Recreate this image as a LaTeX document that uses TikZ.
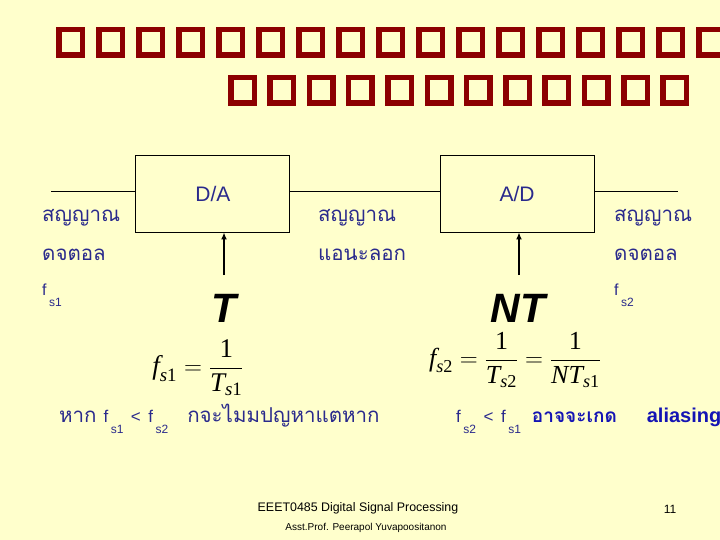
\documentclass[tikz,border=0pt]{standalone}
\usepackage{fontspec}
\usepackage{amsmath}
\setmainfont{Liberation Sans}
\newfontfamily\thai[Script=Thai]{Loma}
\newfontfamily\tms{Liberation Serif}
\usetikzlibrary{arrows.meta}
\definecolor{bg}{HTML}{FFFFCC}
\definecolor{titlered}{HTML}{8C0000}
\definecolor{navy}{HTML}{2A2A8C}
\definecolor{boldblue}{HTML}{1414B4}
\newcommand{\fsb}[1]{f\kern2.5pt\raisebox{-11pt}{\fontsize{12}{12}\selectfont #1}}
\newcommand{\mi}[1]{\text{\tms\itshape #1}}
\newcommand{\mr}[1]{\text{\tms #1}}
\tikzset{
  tofu/.style={draw=titlered, line width=5.5pt},
  blockbox/.style={draw=black, line width=0.9pt},
  sig/.style={draw=black, line width=0.9pt},
  lbl/.style={text=navy, inner sep=0pt, font=\thai\fontsize{20.5}{22}\selectfont},
  fsl/.style={text=navy, inner sep=0pt, font=\fontsize{16}{16}\selectfont},
  boxtxt/.style={text=navy, inner sep=0pt, font=\fontsize{21}{21}\selectfont},
  bigT/.style={text=black, inner sep=0pt, font=\fontsize{41}{41}\selectfont\bfseries\itshape},
  formula/.style={text=black, inner sep=0pt, font=\fontsize{26}{30}\selectfont},
  foot/.style={text=black, inner sep=0pt},
}
\begin{document}
\begin{tikzpicture}[x=1pt,y=-1pt]
\fill[bg] (0,0) rectangle (720,540);
\useasboundingbox (0,0) rectangle (720,540);
% title (missing glyphs)
\foreach \i in {0,...,16} \draw[tofu] ({56+40*\i+2.75},29.75) rectangle ++(23.5,25.5);
\foreach \i in {0,...,11} \draw[tofu] ({228+39.3*\i+2.75},77.75) rectangle ++(23.5,25.5);
% blocks
\node[blockbox, minimum width=154pt, minimum height=77pt, inner sep=0pt] (da) at (212,193.5) {};
\node[blockbox, minimum width=154pt, minimum height=77pt, inner sep=0pt] (ad) at (517,193.5) {};
\node[boxtxt, anchor=base] (datxt) at (213,202) {D/A};
\node[boxtxt, anchor=base] (adtxt) at (517,202) {A/D};
\coordinate (in) at (51,191);
\coordinate (out) at (678,191);
\draw[sig] (in) -- (in -| da.west);
\draw[sig] (da.east |- in) -- (ad.west |- in);
\draw[sig] (ad.east |- in) -- (out);
\coordinate (tda) at (224,275);
\coordinate (tad) at (519,275);
\draw[line width=2.6pt, -{Latex[length=7pt,width=6pt]}] (tda) -- (tda |- da.south);
\draw[line width=1.3pt, -{Latex[length=7pt,width=6pt]}] (tad) -- (tad |- ad.south);
% labels
\node[lbl, anchor=base west] (l1) at (42,222) {สญญาณ};
\node[lbl, anchor=base west] (l2) at (42,260) {ดจตอล};
\node[fsl, anchor=base west] (l3) at (42,295) {\fsb{s1}};
\node[lbl, anchor=base west] (m1) at (318,222) {สญญาณ};
\node[lbl, anchor=base west] (m2) at (318,260) {แอนะลอก};
\node[lbl, anchor=base west] (r1) at (614,222) {สญญาณ};
\node[lbl, anchor=base west] (r2) at (614,260) {ดจตอล};
\node[fsl, anchor=base west] (r3) at (614,295) {\fsb{s2}};
\node[bigT, anchor=base] (T) at (224,322) {T};
\node[bigT, anchor=base] (NT) at (518,322) {NT};
% formulas
\node[formula, font=\fontsize{27}{30}\selectfont] (f1) at (198,368) {$\displaystyle \mi{f}_{\mi{s}\mr{1}} = \frac{\mr{1}}{\mi{T}_{\mi{s}\mr{1}}}$};
\node[formula] (f2) at (515,360) {$\displaystyle \mi{f}_{\mi{s}\mr{2}} = \frac{\mr{1}}{\mi{T}_{\mi{s}\mr{2}}} = \frac{\mr{1}}{\mi{NT}_{\mi{s}\mr{1}}}$};
% bottom statements
\node[lbl, anchor=base west] (b1) at (59,422) {หาก {\fontspec{Liberation Sans}\fontsize{17}{17}\selectfont\fsb{s1} \,<\, \fsb{s2}}\hspace{12pt} กจะไมมปญหาแตหาก};
\node[lbl, anchor=base west] (b2) at (456,422) {{\fontspec{Liberation Sans}\fontsize{17}{17}\selectfont\fsb{s2} \,<\, \fsb{s1}}\hspace{4pt} {\color{boldblue}\bfseries\fontsize{19}{20}\selectfont อาจจะเกด\hspace{30pt}{\fontspec{Liberation Sans}\bfseries\fontsize{20}{20}\selectfont aliasing}}};
% footer
\node[foot, anchor=base, font=\fontsize{12.4}{12.4}\selectfont] (ft1) at (358,511) {EEET0485 Digital Signal Processing};
\node[foot, anchor=base, font=\fontsize{10}{10}\selectfont] (ft2) at (366,530) {Asst.Prof. Peerapol Yuvapoositanon};
\node[foot, anchor=base, font=\fontsize{12}{12}\selectfont] (pg) at (670,513) {11};
\end{tikzpicture}
\end{document}
